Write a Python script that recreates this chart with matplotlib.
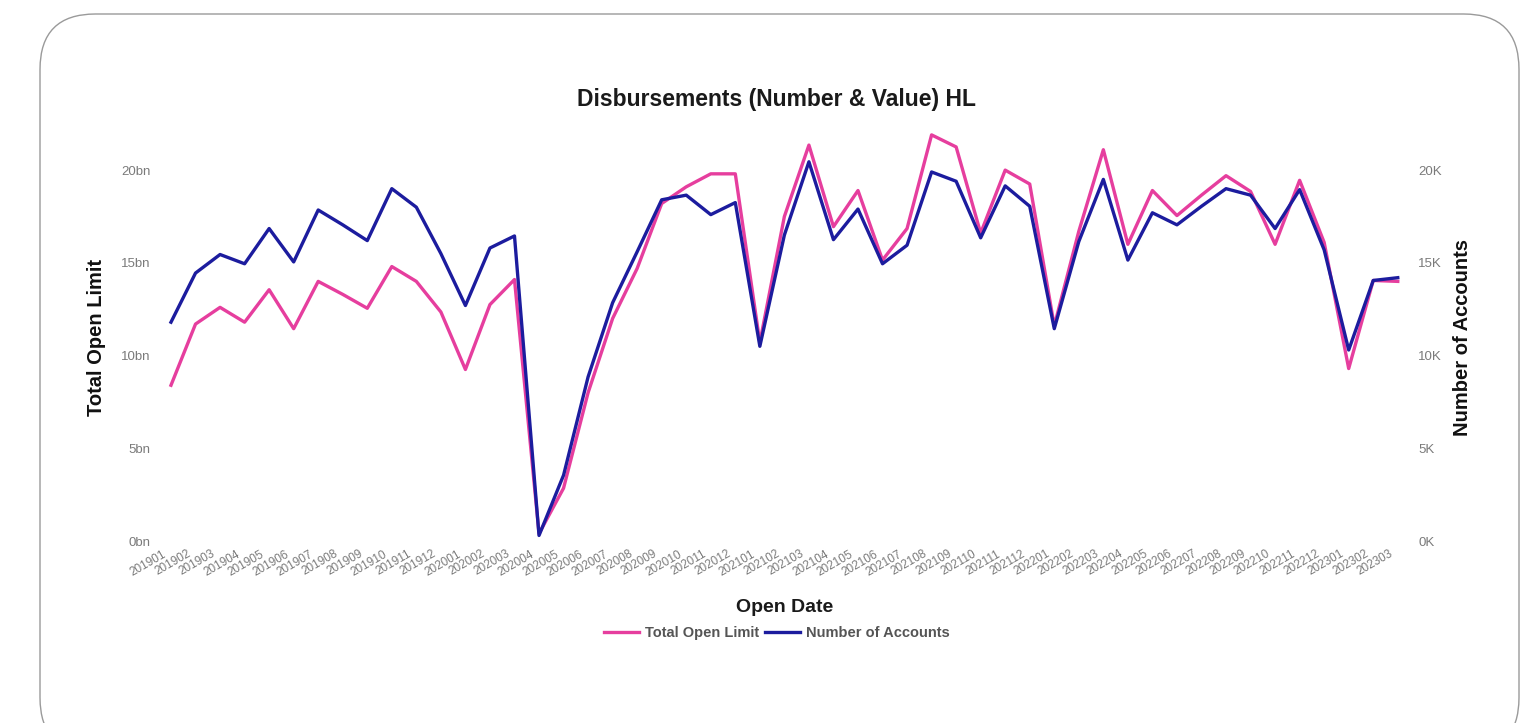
"""
Disbursements (Number & Value) HL - dual axis line chart.

Output:
    out.png
"""

import matplotlib.pyplot as plt
from matplotlib.patches import FancyBboxPatch
from matplotlib.ticker import FuncFormatter, MultipleLocator

plt.rcParams["font.family"] = ["Liberation Sans", "DejaVu Sans"]

months = [
    "201901", "201902", "201903", "201904", "201905", "201906", "201907", "201908",
    "201909", "201910", "201911", "201912", "202001", "202002", "202003", "202004",
    "202005", "202006", "202007", "202008", "202009", "202010", "202011", "202012",
    "202101", "202102", "202103", "202104", "202105", "202106", "202107", "202108",
    "202109", "202110", "202111", "202112", "202201", "202202", "202203", "202204",
    "202205", "202206", "202207", "202208", "202209", "202210", "202211", "202212",
    "202301", "202302", "202303",
]

# Total open limit, in billions
open_limit_bn = [
    8.4, 11.7, 12.6, 11.8, 13.55, 11.45, 14.0, 13.3, 12.55, 14.8, 14.0, 12.35,
    9.25, 12.75, 14.1, 0.4, 2.85, 8.0, 12.0, 14.7, 18.2, 19.1, 19.8, 19.8,
    10.7, 17.5, 21.35, 16.95, 18.9, 15.15, 16.85, 21.9, 21.25, 16.6, 20.0, 19.25,
    11.6, 16.7, 21.1, 16.0, 18.9, 17.55, 18.65, 19.7, 18.85, 16.0, 19.45, 16.1,
    9.3, 14.05, 14.0,
]

# Number of accounts
num_accounts = [
    11800, 14450, 15450, 14950, 16850, 15050, 17850, 17050, 16200, 19000, 18000, 15500,
    12700, 15800, 16450, 300, 3550, 8850, 12850, 15600, 18400, 18650, 17600, 18250,
    10500, 16500, 20450, 16250, 17900, 14950, 15950, 19900, 19400, 16350, 19150, 18050,
    11450, 16150, 19500, 15150, 17700, 17050, 18050, 19000, 18650, 16850, 18950, 15700,
    10300, 14050, 14200,
]

PINK = "#E63E9E"
BLUE = "#1C1C9E"
GREY = "#7a7a7a"

fig = plt.figure(figsize=(15.38, 7.23), dpi=100)

# Rounded card behind the visual
card = FancyBboxPatch(
    (40 / 1538, -30 / 723), 1479 / 1538, 739 / 723,
    boxstyle="round,pad=0,rounding_size=0.036",
    transform=fig.transFigure, facecolor="white", edgecolor="#9a9a9a",
    linewidth=1.0, mutation_aspect=1538 / 723, zorder=-10,
)
fig.patches.append(card)

ax = fig.add_axes([0.1032, 0.2517, 0.8136, 0.5643])
ax.patch.set_alpha(0)
x = list(range(len(months)))

ax.plot(x, open_limit_bn, color=PINK, linewidth=2.4, zorder=3, label="Total Open Limit")
ax2 = ax.twinx()
ax2.patch.set_alpha(0)
ax2.plot(x, num_accounts, color=BLUE, linewidth=2.4, zorder=4, label="Number of Accounts")

ax.set_xlim(-0.5, len(months) - 0.5)
ax.set_ylim(0, 22)
ax2.set_ylim(0, 22000)

ax.yaxis.set_major_locator(MultipleLocator(5))
ax.yaxis.set_major_formatter(FuncFormatter(lambda v, _: f"{v:.0f}bn"))
ax2.yaxis.set_major_locator(MultipleLocator(5000))
ax2.yaxis.set_major_formatter(FuncFormatter(lambda v, _: f"{v / 1000:.0f}K"))

# labels sit a little left of each point (ticks themselves are hidden)
ax.set_xticks([i - 0.35 for i in x])
ax.set_xticklabels(months, rotation=30, ha="right", rotation_mode="anchor")

for a in (ax, ax2):
    for s in a.spines.values():
        s.set_visible(False)
    a.tick_params(length=0, colors=GREY, labelsize=9.5)
ax.tick_params(axis="y", pad=6)
ax.tick_params(axis="x", pad=5, labelsize=8.5)
ax2.tick_params(axis="y", pad=6)

ax.set_ylabel("Total Open Limit", fontsize=14.5, fontweight="bold", color="#111111", labelpad=11)
ax2.set_ylabel("Number of Accounts", fontsize=14.5, fontweight="bold", color="#111111", labelpad=8)

fig.text(0.505, 0.862, "Disbursements (Number & Value) HL", ha="center", va="center",
         fontsize=16.5, fontweight="bold", color="#1a1a1a")
fig.text(0.510, 0.160, "Open Date", ha="center", va="center",
         fontsize=14, fontweight="bold", color="#1a1a1a")

handles = ax.get_lines() + ax2.get_lines()
fig.legend(
    handles, [h.get_label() for h in handles],
    loc="center", bbox_to_anchor=(0.505, 0.124), ncol=2, frameon=False,
    handlelength=2.4, handletextpad=0.4, columnspacing=0.4,
    labelcolor="#555555", prop={"weight": "bold", "size": 10.5},
)

fig.savefig("out.png", dpi=100)
